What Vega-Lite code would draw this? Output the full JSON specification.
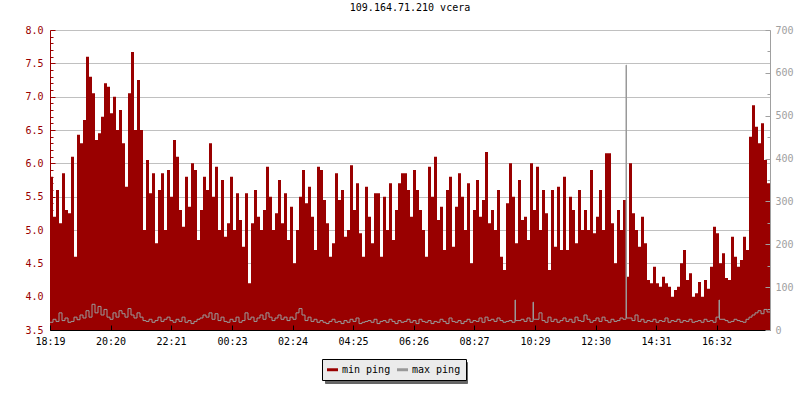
{
"$schema": "https://vega.github.io/schema/vega-lite/v6.json",
"width": 720, "height": 300,
"autosize": {"type": "none"},
"padding": {"left": 50, "top": 30, "right": 30, "bottom": 70},
"background": "white",
"title": {"text": "109.164.71.210 vcera", "font": "DejaVu Sans Mono", "fontSize": 10, "fontWeight": "normal", "color": "#000000", "anchor": "middle", "offset": 12},
"config": {"view": {"stroke": null}, "axis": {"labelFont": "DejaVu Sans Mono", "labelFontSize": 10}},
"data": {"values": [
{"t":0,"mn":5.8,"mx":18},{"t":6,"mn":5.2,"mx":25},{"t":12,"mn":5.6,"mx":20},{"t":18,"mn":5.1,"mx":40},{"t":24,"mn":5.85,"mx":22},{"t":30,"mn":5.3,"mx":28},{"t":36,"mn":5.25,"mx":18},{"t":42,"mn":6.1,"mx":20},{"t":48,"mn":4.6,"mx":30},{"t":54,"mn":6.43,"mx":24},
{"t":60,"mn":6.3,"mx":35},{"t":66,"mn":6.65,"mx":28},{"t":72,"mn":7.6,"mx":45},{"t":78,"mn":7.3,"mx":30},{"t":84,"mn":7.05,"mx":60},{"t":90,"mn":6.35,"mx":40},{"t":96,"mn":6.45,"mx":55},{"t":102,"mn":6.7,"mx":35},{"t":108,"mn":7.2,"mx":48},{"t":114,"mn":7.15,"mx":30},
{"t":120,"mn":6.75,"mx":25},{"t":126,"mn":7.0,"mx":40},{"t":132,"mn":6.5,"mx":30},{"t":138,"mn":6.8,"mx":45},{"t":144,"mn":6.3,"mx":38},{"t":150,"mn":5.65,"mx":30},{"t":156,"mn":7.05,"mx":50},{"t":162,"mn":7.67,"mx":35},{"t":168,"mn":6.5,"mx":28},{"t":174,"mn":7.25,"mx":40},
{"t":180,"mn":6.5,"mx":30},{"t":186,"mn":5.0,"mx":22},{"t":192,"mn":6.05,"mx":20},{"t":198,"mn":5.55,"mx":25},{"t":204,"mn":5.85,"mx":18},{"t":210,"mn":4.8,"mx":22},{"t":216,"mn":5.6,"mx":30},{"t":222,"mn":5.85,"mx":20},{"t":228,"mn":5.0,"mx":25},{"t":234,"mn":5.9,"mx":30},
{"t":240,"mn":5.5,"mx":22},{"t":246,"mn":6.35,"mx":18},{"t":252,"mn":6.1,"mx":25},{"t":258,"mn":5.3,"mx":20},{"t":264,"mn":5.05,"mx":30},{"t":270,"mn":5.8,"mx":18},{"t":276,"mn":5.35,"mx":22},{"t":282,"mn":6.0,"mx":15},{"t":288,"mn":5.9,"mx":20},{"t":294,"mn":4.85,"mx":25},
{"t":300,"mn":5.3,"mx":28},{"t":306,"mn":5.8,"mx":35},{"t":312,"mn":5.6,"mx":30},{"t":318,"mn":6.3,"mx":40},{"t":324,"mn":5.5,"mx":25},{"t":330,"mn":5.95,"mx":38},{"t":336,"mn":5.0,"mx":22},{"t":342,"mn":5.75,"mx":30},{"t":348,"mn":4.9,"mx":20},{"t":354,"mn":5.1,"mx":18},
{"t":360,"mn":5.8,"mx":25},{"t":366,"mn":5.0,"mx":20},{"t":372,"mn":5.55,"mx":30},{"t":378,"mn":5.15,"mx":18},{"t":384,"mn":4.75,"mx":22},{"t":390,"mn":5.55,"mx":40},{"t":396,"mn":4.2,"mx":25},{"t":402,"mn":5.1,"mx":30},{"t":408,"mn":5.6,"mx":20},{"t":414,"mn":5.2,"mx":28},
{"t":420,"mn":5.0,"mx":35},{"t":426,"mn":5.3,"mx":25},{"t":432,"mn":5.95,"mx":40},{"t":438,"mn":5.5,"mx":30},{"t":444,"mn":5.0,"mx":22},{"t":450,"mn":5.25,"mx":28},{"t":456,"mn":5.75,"mx":35},{"t":462,"mn":5.1,"mx":25},{"t":468,"mn":5.55,"mx":30},{"t":474,"mn":4.85,"mx":22},
{"t":480,"mn":5.35,"mx":30},{"t":486,"mn":4.5,"mx":25},{"t":492,"mn":5.0,"mx":40},{"t":498,"mn":5.5,"mx":50},{"t":504,"mn":5.9,"mx":35},{"t":510,"mn":5.4,"mx":22},{"t":516,"mn":5.65,"mx":30},{"t":522,"mn":5.2,"mx":20},{"t":528,"mn":4.7,"mx":25},{"t":534,"mn":5.95,"mx":18},
{"t":540,"mn":5.9,"mx":22},{"t":546,"mn":5.45,"mx":18},{"t":552,"mn":5.1,"mx":15},{"t":558,"mn":4.6,"mx":20},{"t":564,"mn":4.8,"mx":25},{"t":570,"mn":5.85,"mx":18},{"t":576,"mn":5.45,"mx":20},{"t":582,"mn":5.6,"mx":15},{"t":588,"mn":4.9,"mx":22},{"t":594,"mn":5.0,"mx":18},
{"t":600,"mn":5.97,"mx":25},{"t":606,"mn":5.3,"mx":20},{"t":612,"mn":5.7,"mx":28},{"t":618,"mn":4.95,"mx":15},{"t":624,"mn":4.6,"mx":18},{"t":630,"mn":5.65,"mx":20},{"t":636,"mn":5.2,"mx":22},{"t":642,"mn":4.8,"mx":18},{"t":648,"mn":5.55,"mx":25},{"t":654,"mn":5.55,"mx":15},
{"t":660,"mn":4.6,"mx":20},{"t":666,"mn":5.5,"mx":22},{"t":672,"mn":5.0,"mx":18},{"t":678,"mn":5.7,"mx":25},{"t":684,"mn":4.85,"mx":20},{"t":690,"mn":5.3,"mx":15},{"t":696,"mn":5.7,"mx":22},{"t":702,"mn":5.85,"mx":18},{"t":708,"mn":5.85,"mx":20},{"t":714,"mn":5.6,"mx":25},
{"t":720,"mn":5.2,"mx":18},{"t":726,"mn":5.9,"mx":22},{"t":732,"mn":5.6,"mx":15},{"t":738,"mn":5.3,"mx":25},{"t":744,"mn":5.0,"mx":20},{"t":750,"mn":4.6,"mx":18},{"t":756,"mn":5.95,"mx":22},{"t":762,"mn":5.5,"mx":15},{"t":768,"mn":6.1,"mx":20},{"t":774,"mn":5.15,"mx":18},
{"t":780,"mn":5.35,"mx":25},{"t":786,"mn":4.7,"mx":20},{"t":792,"mn":5.6,"mx":15},{"t":798,"mn":5.8,"mx":28},{"t":804,"mn":4.75,"mx":20},{"t":810,"mn":5.35,"mx":18},{"t":816,"mn":5.85,"mx":22},{"t":822,"mn":5.5,"mx":15},{"t":828,"mn":5.0,"mx":20},{"t":834,"mn":5.7,"mx":25},
{"t":840,"mn":4.5,"mx":18},{"t":846,"mn":5.3,"mx":22},{"t":852,"mn":5.75,"mx":20},{"t":858,"mn":5.2,"mx":28},{"t":864,"mn":5.45,"mx":18},{"t":870,"mn":6.17,"mx":30},{"t":876,"mn":5.1,"mx":22},{"t":882,"mn":5.3,"mx":25},{"t":888,"mn":5.0,"mx":20},{"t":894,"mn":5.6,"mx":28},
{"t":900,"mn":4.6,"mx":22},{"t":906,"mn":4.4,"mx":18},{"t":912,"mn":5.4,"mx":20},{"t":918,"mn":6.0,"mx":22},{"t":924,"mn":5.5,"mx":18},{"t":930,"mn":4.8,"mx":70},{"t":931,"mn":4.8,"mx":22},{"t":936,"mn":5.75,"mx":22},{"t":942,"mn":5.15,"mx":25},{"t":948,"mn":5.2,"mx":20},{"t":954,"mn":4.85,"mx":28},
{"t":960,"mn":6.0,"mx":20},{"t":966,"mn":5.3,"mx":65},{"t":967,"mn":5.3,"mx":25},{"t":972,"mn":5.95,"mx":25},{"t":978,"mn":5.0,"mx":40},{"t":984,"mn":5.6,"mx":22},{"t":990,"mn":5.25,"mx":18},{"t":996,"mn":4.4,"mx":30},{"t":1002,"mn":5.6,"mx":20},{"t":1008,"mn":4.75,"mx":25},{"t":1014,"mn":5.65,"mx":18},
{"t":1020,"mn":4.7,"mx":22},{"t":1026,"mn":5.8,"mx":28},{"t":1032,"mn":4.7,"mx":20},{"t":1038,"mn":5.5,"mx":25},{"t":1044,"mn":5.3,"mx":18},{"t":1050,"mn":4.8,"mx":30},{"t":1056,"mn":5.6,"mx":22},{"t":1062,"mn":5.0,"mx":20},{"t":1068,"mn":5.3,"mx":35},{"t":1074,"mn":5.0,"mx":25},
{"t":1080,"mn":5.9,"mx":18},{"t":1086,"mn":4.95,"mx":22},{"t":1092,"mn":5.2,"mx":28},{"t":1098,"mn":5.6,"mx":20},{"t":1104,"mn":5.0,"mx":30},{"t":1110,"mn":6.15,"mx":22},{"t":1116,"mn":6.15,"mx":18},{"t":1122,"mn":5.1,"mx":25},{"t":1128,"mn":4.5,"mx":20},{"t":1134,"mn":5.3,"mx":22},
{"t":1140,"mn":5.0,"mx":28},{"t":1146,"mn":5.45,"mx":25},{"t":1152,"mn":4.3,"mx":618},{"t":1153,"mn":4.3,"mx":28},{"t":1158,"mn":6.0,"mx":28},{"t":1164,"mn":5.25,"mx":22},{"t":1170,"mn":5.0,"mx":35},{"t":1176,"mn":4.75,"mx":20},{"t":1182,"mn":5.2,"mx":25},{"t":1188,"mn":4.8,"mx":18},{"t":1194,"mn":4.25,"mx":22},
{"t":1200,"mn":4.2,"mx":20},{"t":1206,"mn":4.45,"mx":25},{"t":1212,"mn":4.2,"mx":18},{"t":1218,"mn":4.15,"mx":22},{"t":1224,"mn":4.3,"mx":20},{"t":1230,"mn":4.2,"mx":28},{"t":1236,"mn":4.15,"mx":18},{"t":1242,"mn":4.0,"mx":22},{"t":1248,"mn":4.1,"mx":20},{"t":1254,"mn":4.15,"mx":25},
{"t":1260,"mn":4.5,"mx":18},{"t":1266,"mn":4.7,"mx":22},{"t":1272,"mn":4.25,"mx":20},{"t":1278,"mn":4.35,"mx":25},{"t":1284,"mn":4.0,"mx":18},{"t":1290,"mn":4.05,"mx":20},{"t":1296,"mn":4.22,"mx":22},{"t":1302,"mn":4.0,"mx":18},{"t":1308,"mn":4.25,"mx":25},{"t":1314,"mn":4.12,"mx":20},
{"t":1320,"mn":4.45,"mx":22},{"t":1326,"mn":5.05,"mx":18},{"t":1332,"mn":4.95,"mx":30},{"t":1338,"mn":4.5,"mx":70},{"t":1339,"mn":4.5,"mx":25},{"t":1344,"mn":4.65,"mx":25},{"t":1350,"mn":4.28,"mx":22},{"t":1356,"mn":4.25,"mx":18},{"t":1362,"mn":4.9,"mx":20},{"t":1368,"mn":4.6,"mx":25},{"t":1374,"mn":4.45,"mx":22},
{"t":1380,"mn":4.55,"mx":20},{"t":1386,"mn":4.9,"mx":18},{"t":1392,"mn":4.7,"mx":25},{"t":1398,"mn":6.4,"mx":30},{"t":1404,"mn":6.87,"mx":35},{"t":1410,"mn":6.55,"mx":40},{"t":1416,"mn":6.3,"mx":45},{"t":1422,"mn":6.6,"mx":38},{"t":1428,"mn":6.05,"mx":48},{"t":1434,"mn":5.7,"mx":42},
{"t":1440,"mn":5.7,"mx":42}
]},
"encoding": {
  "x": {"field": "t", "type": "quantitative", "scale": {"domain": [0, 1440], "nice": false, "zero": false},
    "axis": {"title": null, "values": [0,121,242,364,485,606,727,848,970,1091,1212,1333],
      "labelExpr": "timeFormat(datetime(2020,0,1,18,19+datum.value),'%H:%M')",
      "grid": false, "domainColor": "#000000", "tickColor": "#000000", "tickSize": -5, "labelPadding": 11,
      "labelColor": "#000000", "labelFlush": false, "labelOverlap": false, "zindex": 1}}
},
"layer": [
  {
    "mark": {"type": "area", "interpolate": "step-after", "clip": true},
    "encoding": {
      "y": {"field": "mn", "type": "quantitative", "scale": {"domain": [3.5, 8], "nice": false, "zero": false},
        "axis": {"title": null, "orient": "left",
          "values": [3.5,3.6,3.7,3.8,3.9,4.0,4.1,4.2,4.3,4.4,4.5,4.6,4.7,4.8,4.9,5.0,5.1,5.2,5.3,5.4,5.5,5.6,5.7,5.8,5.9,6.0,6.1,6.2,6.3,6.4,6.5,6.6,6.7,6.8,6.9,7.0,7.1,7.2,7.3,7.4,7.5,7.6,7.7,7.8,7.9,8.0],
          "labelExpr": "round(datum.value*10)%5==0 ? format(datum.value,'.1f') : ''",
          "labelColor": "#990000", "domainColor": "#990000", "tickColor": "#990000",
          "tickSize": {"condition": {"test": "round(datum.value*10)%5==0", "value": -5}, "value": -3},
          "labelPadding": 12, "grid": true, "gridColor": "#c0c0c0",
          "gridOpacity": {"condition": {"test": "round(datum.value*10)%5==0", "value": 1}, "value": 0},
          "labelOverlap": false, "labelFlush": false}},
      "y2": {"datum": 3.5},
      "color": {"datum": "min ping", "type": "nominal",
        "scale": {"domain": ["min ping", "max ping"], "range": ["#990000", "#999999"]},
        "legend": {"orient": "none", "legendX": 272, "legendY": 329, "direction": "horizontal", "title": null,
          "fillColor": "#ebebeb", "strokeColor": "#000000", "padding": 5, "zindex": 2,
          "labelFont": "DejaVu Sans Mono", "labelFontSize": 10, "labelColor": "#000000",
          "symbolType": "M-1,-0.27H1V0.27H-1Z", "symbolSize": 121, "symbolStrokeWidth": 0,
          "labelOffset": 4, "columnPadding": 6,
          "encode": {"symbols": {"update": {"fill": {"scale": "color", "field": "value"}, "stroke": {"value": "transparent"}, "opacity": {"value": 1}}}}}}
    }
  },
  {
    "mark": {"type": "line", "interpolate": "step-after", "strokeWidth": 1, "clip": true},
    "encoding": {
      "y": {"field": "mx", "type": "quantitative", "scale": {"domain": [0, 700], "nice": false},
        "axis": {"title": null, "orient": "right",
          "values": [0,50,100,150,200,250,300,350,400,450,500,550,600,650,700],
          "labelExpr": "datum.value%100==0 ? datum.label : ''",
          "labelColor": "#a0a0a0", "domainColor": "#a0a0a0", "tickColor": "#a0a0a0",
          "tickSize": {"condition": {"test": "datum.value%100==0", "value": -5}, "value": -3},
          "labelPadding": 10, "grid": false, "labelOverlap": false, "labelFlush": false, "zindex": 1}},
      "color": {"datum": "max ping", "type": "nominal"}
    }
  },
  {
    "mark": {"type": "line", "opacity": 0},
    "encoding": {
      "y": {"field": "mx", "type": "quantitative", "scale": {"domain": [0, 700], "nice": false}, "axis": null},
      "strokeDash": {"datum": "s1", "type": "nominal",
        "scale": {"domain": ["s1", "s2"], "range": [[1, 0], [2, 0]]},
        "legend": {"orient": "none", "legendX": 275, "legendY": 332, "direction": "horizontal", "title": null,
          "fillColor": "#666666", "strokeColor": "#666666", "padding": 5, "zindex": 0,
          "labelFont": "DejaVu Sans Mono", "labelFontSize": 10, "labelColor": "transparent",
          "labelExpr": "''",
          "symbolType": "M-1,-0.27H1V0.27H-1Z", "symbolSize": 121, "symbolStrokeWidth": 0, "symbolOpacity": 0,
          "labelOffset": 52, "columnPadding": 6}}
    }
  }
],
"resolve": {"scale": {"y": "independent"}}
}
